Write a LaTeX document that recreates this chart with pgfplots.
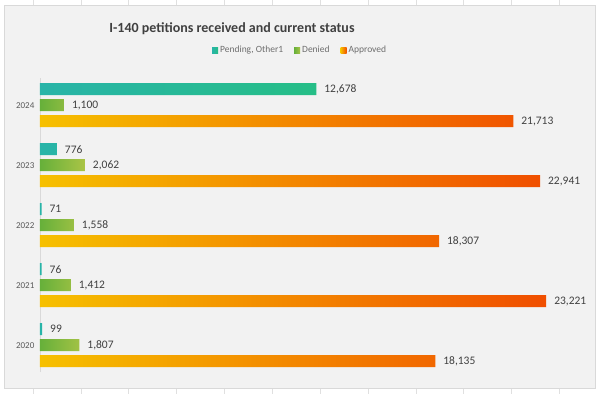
\documentclass[border=0pt]{standalone}
\usepackage{pgfplots}
\pgfplotsset{compat=1.18}
\usepackage{fontspec}
\setmainfont{Carlito}
\definecolor{txt}{RGB}{64,64,64}
\definecolor{ticktxt}{RGB}{89,89,89}
\definecolor{legtxt}{RGB}{110,110,110}
\definecolor{titlecol}{RGB}{64,64,64}
\definecolor{panel}{RGB}{242,242,242}
\definecolor{panelborder}{RGB}{217,217,217}
\definecolor{axisgray}{RGB}{217,217,217}
\definecolor{tealL}{RGB}{40,180,168}
\definecolor{tealR}{RGB}{38,190,135}
\definecolor{greenL}{RGB}{102,176,58}
\definecolor{greenR}{RGB}{170,196,70}
\definecolor{orangeL}{RGB}{246,192,0}
\definecolor{orangeR}{RGB}{240,78,0}
\begin{document}
\begin{tikzpicture}[x=1pt,y=1pt]
\path[fill=white] (0,0) rectangle (600,394);
\foreach \xx in {33,81,128,176,224,272,320,368,416,463,511,559}{
  \draw[black!12] (\xx,0) -- (\xx,5);
  \draw[black!12] (\xx,389) -- (\xx,394);
}
\path[fill=panel,draw=panelborder] (4.5,6.5) rectangle (595.5,388.5);
\node[font=\bfseries\fontsize{14}{16}\selectfont, text=titlecol] at (232,366) {I-140 petitions received and current status};
\begin{axis}[
  at={(40pt,22pt)}, anchor=south west,
  scale only axis, width=545pt, height=294pt,
  xmin=0, xmax=25000, ymin=-0.45, ymax=4.45,
  xbar, bar width=12pt,
  axis x line=none, axis y line=left,
  y axis line style={-, draw=axisgray},
  ytick={0,1,2,3,4}, yticklabels={2020,2021,2022,2023,2024},
  ytick style={draw=none},
  yticklabel style={font=\fontsize{9}{10}\selectfont, text=ticktxt},
  nodes near coords,
  nodes near coords style={font=\fontsize{11.5}{13}\selectfont, text=txt, xshift=4.5pt},
  /pgf/number format/1000 sep={,},
  /pgf/number format/assume math mode=true,
  legend style={at={(0.31,1.095)}, anchor=west, draw=none, fill=none,
    font=\fontsize{9.5}{11}\selectfont, text=legtxt,
    /tikz/every even column/.append style={column sep=9pt}},
  legend columns=-1,
  legend image code/.code={\path[#1, draw=none] (0pt,-3pt) rectangle (6pt,3pt);},
]
\addplot[bar shift=16pt, draw=none, left color=tealL, right color=tealR]
  coordinates {(99,0) (76,1) (71,2) (776,3) (12678,4)};
\addplot[bar shift=0pt, draw=none, left color=greenL, right color=greenR]
  coordinates {(1807,0) (1412,1) (1558,2) (2062,3) (1100,4)};
\addplot[bar shift=-16pt, draw=none, left color=orangeL, right color=orangeR]
  coordinates {(18135,0) (23221,1) (18307,2) (22941,3) (21713,4)};
\legend{{Pending, Other1}, Denied, Approved}
\end{axis}
\end{tikzpicture}
\end{document}
